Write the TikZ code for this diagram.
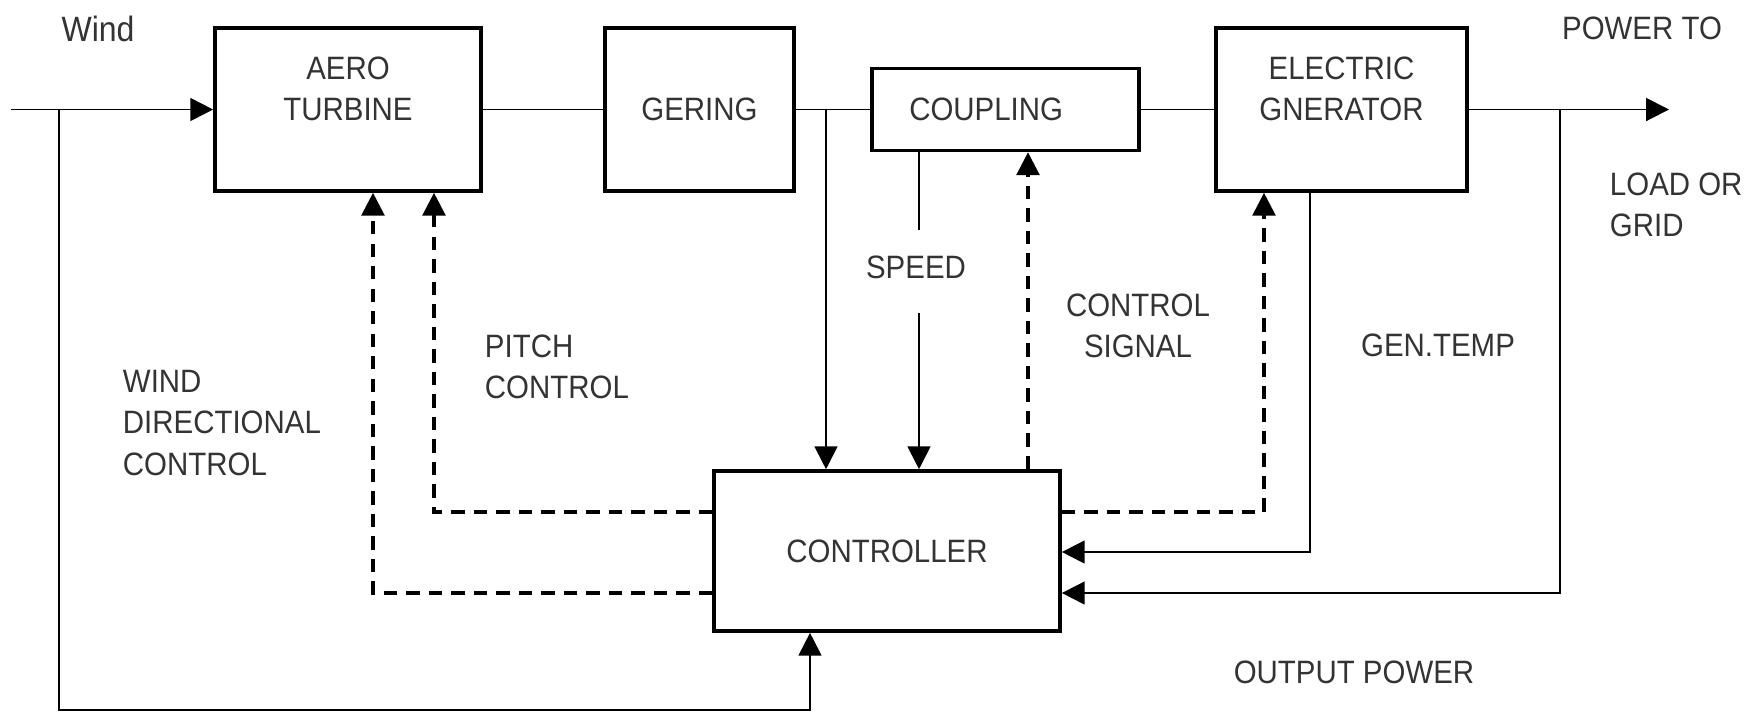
\documentclass[tikz,border=0pt]{standalone}
\usepackage{fontspec}
\setmainfont[FakeStretch=0.91]{Liberation Sans}
\usetikzlibrary{arrows.meta,positioning}

\begin{document}
\begin{tikzpicture}[x=0.01cm, y=-0.01cm, line width=0.55pt,
    block/.style={rectangle, draw, line width=1pt, align=center, inner sep=0pt, font=\fontsize{9.2}{11.8}\selectfont, text=black!80},
    lbl/.style={align=left, inner sep=0pt, font=\fontsize{9.2}{11.8}\selectfont, text=black!80},
    sig/.style={-{Triangle[length=6.5pt,width=6.5pt]}},
    fb/.style={line width=0.9pt, dash pattern=on 3.8pt off 2.6pt, -{Triangle[length=6.5pt,width=6.5pt]}}
]
\useasboundingbox (0,0) rectangle (1748,714);

% Blocks
\node[block, minimum width=2.66cm, minimum height=1.63cm] (turbine) at (348,109.5) {AERO\\TURBINE\\\mbox{}};
\node[block, minimum width=1.89cm, minimum height=1.63cm] (gering) at (699.5,109.5) {GERING};
\node[block, minimum width=2.67cm, minimum height=0.82cm] (coupling) at (1005.5,109.5) {COUPLING\hspace*{11pt}};
\node[block, minimum width=2.51cm, minimum height=1.63cm] (generator) at (1341.5,109.5) {ELECTRIC\\GNERATOR\\\mbox{}};
\node[block, minimum width=3.46cm, minimum height=1.60cm] (ctrl) at (887,551) {CONTROLLER};

% Labels
\node[lbl, font=\fontsize{10}{12}\selectfont] (wind) at (98,29) {Wind};
\node[lbl] (powerto) at (1642,28) {POWER TO};
\node[lbl, anchor=west] (load) at (1609,205) {LOAD OR\\GRID};
\node[lbl, anchor=west] (winddir) at (122,423) {WIND\\DIRECTIONAL\\CONTROL};
\node[lbl, anchor=west] (pitch) at (484,367) {PITCH\\CONTROL};
\node[lbl] (speed) at (916,267) {SPEED};
\node[lbl, align=center] (csignal) at (1138,326) {CONTROL\\SIGNAL};
\node[lbl] (gentemp) at (1438,345) {GEN.TEMP};
\node[lbl] (outpower) at (1354,672) {OUTPUT POWER};

% Points on the lines
\coordinate (win) at (11,109.5);
\coordinate (wbr) at (59,109.5);
\coordinate (wbot) at (810,710);
\coordinate (gbr) at (826,109.5);
\coordinate (spd1) at (919,230);
\coordinate (spd2) at (919,313);
\coordinate (csig) at (1028,300);
\coordinate (pout) at (1669,109.5);
\coordinate (obr) at (1560,109.5);
\coordinate (opw) at (1560,593);
\coordinate (gt) at (1310,552);
\coordinate (gs) at (1264,512);
\coordinate (pc) at (434,512);
\coordinate (wd) at (373,593);

% Main chain
\draw[sig] (win) -- (turbine.west);
\draw (turbine) -- (gering);
\draw (gering) -- (coupling);
\draw (coupling) -- (generator);
\draw[sig] (generator.east) -- (pout);

% Measurements to controller
\draw[sig] (wbr) |- (wbot) -- (wbot |- ctrl.south);
\draw[sig] (gbr) -- (gbr |- ctrl.north);
\draw (spd1 |- coupling.south) -- (spd1);
\draw[sig] (spd2) -- (spd2 |- ctrl.north);
\draw[sig] (gt |- generator.south) -- (gt) -- (gt -| ctrl.east);
\draw[sig] (obr) -- (opw) -- (opw -| ctrl.east);

% Control signals
\draw[fb] (csig |- ctrl.north) -- (csig |- coupling.south);
\draw[fb] (gs -| ctrl.east) -- (gs) -- (gs |- generator.south);
\draw[fb] (pc -| ctrl.west) -- (pc) -- (pc |- turbine.south);
\draw[fb] (wd -| ctrl.west) -- (wd) -- (wd |- turbine.south);

\end{tikzpicture}
\end{document}
